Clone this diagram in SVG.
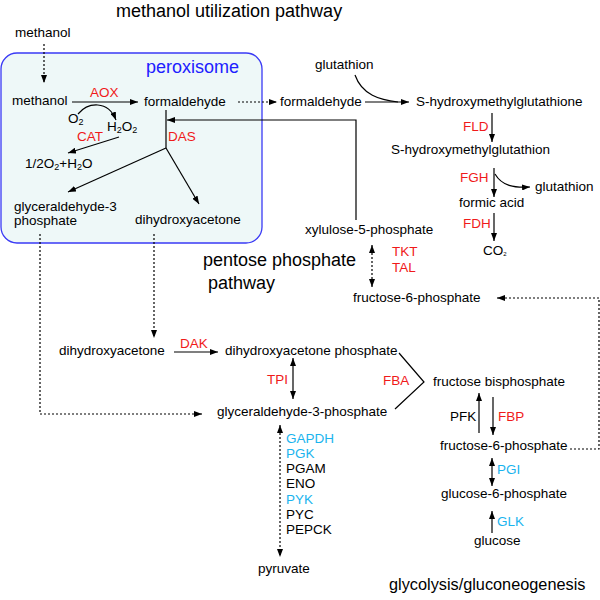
<svg xmlns="http://www.w3.org/2000/svg" width="600" height="600" viewBox="0 0 600 600">
<style>
text{font-family:"Liberation Sans",Arial,Helvetica,sans-serif;font-size:13.5px;fill:#000}
.t{font-size:18px}
.r{fill:#f01a1a}
.c{fill:#1ab4ee}
.b{fill:#2020ff}
.ln{fill:none;stroke:#000;stroke-width:1.2}
.a{marker-end:url(#ah)}
.d{stroke-dasharray:2 2}
.aa{marker-end:url(#ah);marker-start:url(#ah)}
.sub{font-size:9px}
</style>
<defs>
<marker id="ah" viewBox="0 0 8 6" refX="8" refY="3" markerWidth="8" markerHeight="6" markerUnits="userSpaceOnUse" orient="auto-start-reverse">
<path d="M0,0L8,3L0,6z" fill="#000"/>
</marker>
</defs>
<rect x="1" y="53" width="261" height="190" rx="16" fill="#eef8f8" stroke="#3a3af5" stroke-width="1.3"/>
<text class="t" x="116" y="17">methanol utilization pathway</text>
<text class="t b" x="146" y="73">peroxisome</text>
<text class="t" x="203" y="266">pentose phosphate</text>
<text class="t" x="208" y="289">pathway</text>
<text class="t" x="389" y="590" style="font-size:16.3px">glycolysis/gluconeogenesis</text>
<g id="connectors">
<line class="ln a d" x1="44" y1="44" x2="44" y2="83"/>
<line class="ln a" x1="72" y1="102" x2="138" y2="102"/>
<path class="ln a" d="M78,114C88,102 108,100 116,120"/>
<line class="ln a" x1="119" y1="137" x2="68" y2="153"/>
<line class="ln" x1="166" y1="110" x2="166" y2="148"/>
<line class="ln a" x1="166" y1="148" x2="68" y2="192"/>
<line class="ln a" x1="166" y1="148" x2="199" y2="204"/>
<polyline class="ln a" points="356,220 356,120 167,120"/>
<line class="ln a d" x1="238" y1="102" x2="277" y2="102"/>
<line class="ln a" x1="365" y1="102" x2="409" y2="102"/>
<path class="ln" d="M355,75C362,95 380,100 398,102"/>
<line class="ln a" x1="492" y1="113" x2="492" y2="142"/>
<line class="ln a" x1="494" y1="168" x2="494" y2="197"/>
<path class="ln a" d="M495,174C502,186 514,188 530,187"/>
<line class="ln a" x1="494" y1="213" x2="494" y2="241"/>
<line class="ln aa d" x1="372" y1="245" x2="372" y2="287"/>
<polyline class="ln a d" points="570,449 599,449 599,298 497,298"/>
<polyline class="ln a d" points="40,234 40,414 202,414"/>
<line class="ln a d" x1="154" y1="234" x2="154" y2="338"/>
<line class="ln a" x1="174" y1="352" x2="218" y2="352"/>
<line class="ln aa" x1="293" y1="358" x2="293" y2="399"/>
<polyline class="ln" points="399,353 424,382 395,409"/>
<line class="ln a" x1="479" y1="433" x2="479" y2="393"/>
<line class="ln a" x1="493" y1="397" x2="493" y2="435"/>
<line class="ln aa" x1="492" y1="458" x2="492" y2="486"/>
<line class="ln a" x1="492" y1="533" x2="492" y2="511"/>
<line class="ln aa d" x1="280" y1="425" x2="280" y2="557"/>
</g>
<g id="methanol_out"><text x="15" y="37">methanol</text></g>
<g id="methanol_in"><text x="12" y="105">methanol</text></g>
<g id="aox"><text class="r" x="90" y="97">AOX</text></g>
<g id="formaldehyde_in"><text x="144" y="106">formaldehyde</text></g>
<g id="o2"><text x="68" y="123">O<tspan class="sub" dy="2">2</tspan></text></g>
<g id="h2o2"><text x="107" y="131">H<tspan class="sub" dy="2">2</tspan><tspan dy="-2">O</tspan><tspan class="sub" dy="2">2</tspan></text></g>
<g id="cat"><text class="r" x="77" y="141">CAT</text></g>
<g id="water"><text x="25" y="168">1/2O<tspan class="sub" dy="2">2</tspan><tspan dy="-2">+H</tspan><tspan class="sub" dy="2">2</tspan><tspan dy="-2">O</tspan></text></g>
<g id="das"><text class="r" x="168" y="141">DAS</text></g>
<g id="gap_in"><text x="14" y="211">glyceraldehyde-3</text><text x="14" y="225">phosphate</text></g>
<g id="dha_in"><text x="135" y="224">dihydroxyacetone</text></g>
<g id="formaldehyde_out"><text x="280" y="106">formaldehyde</text></g>
<g id="glutathion1"><text x="315" y="69">glutathion</text></g>
<g id="shmg1"><text x="416" y="106">S-hydroxymethylglutathione</text></g>
<g id="fld"><text class="r" x="463" y="131">FLD</text></g>
<g id="shmg2"><text x="391" y="154">S-hydroxymethylglutathion</text></g>
<g id="fgh"><text class="r" x="460" y="182">FGH</text></g>
<g id="glutathion2"><text x="535" y="191">glutathion</text></g>
<g id="formic"><text x="459" y="207">formic acid</text></g>
<g id="fdh"><text class="r" x="463" y="228">FDH</text></g>
<g id="co2"><text x="483" y="255">CO<tspan style="font-size:6px" dy="1">2</tspan></text></g>
<g id="xylulose"><text x="305" y="234">xylulose-5-phosphate</text></g>
<g id="tkt"><text class="r" x="392" y="256">TKT</text><text class="r" x="392" y="272">TAL</text></g>
<g id="f6p_top"><text x="353" y="302">fructose-6-phosphate</text></g>
<g id="dha"><text x="59" y="355">dihydroxyacetone</text></g>
<g id="dak"><text class="r" x="180" y="348">DAK</text></g>
<g id="dhap"><text x="225" y="355">dihydroxyacetone phosphate</text></g>
<g id="tpi"><text class="r" x="267" y="384">TPI</text></g>
<g id="fba"><text class="r" x="383" y="385">FBA</text></g>
<g id="gap"><text x="217" y="416">glyceraldehyde-3-phosphate</text></g>
<g id="fbp_node"><text x="433" y="386">fructose bisphosphate</text></g>
<g id="pfk"><text x="450" y="421">PFK</text></g>
<g id="fbp"><text class="r" x="498" y="421">FBP</text></g>
<g id="f6p"><text x="440" y="450">fructose-6-phosphate</text></g>
<g id="pgi"><text class="c" x="497" y="474">PGI</text></g>
<g id="g6p"><text x="441" y="498">glucose-6-phosphate</text></g>
<g id="glk"><text class="c" x="497" y="526">GLK</text></g>
<g id="glucose"><text x="474" y="545">glucose</text></g>
<g id="enzymes">
<text class="c" x="286" y="443">GAPDH</text>
<text class="c" x="286" y="458">PGK</text>
<text x="286" y="473">PGAM</text>
<text x="286" y="488">ENO</text>
<text class="c" x="286" y="504">PYK</text>
<text x="286" y="519">PYC</text>
<text x="286" y="534">PEPCK</text>
</g>
<g id="pyruvate"><text x="258" y="573">pyruvate</text></g>
</svg>
